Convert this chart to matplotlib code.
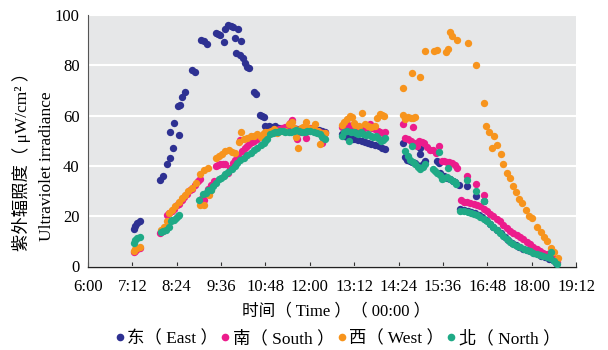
import matplotlib
matplotlib.use("Agg")
import matplotlib.pyplot as plt
from matplotlib.lines import Line2D

plt.rcParams["font.family"] = ["Liberation Serif", "Noto Sans CJK TC", "DejaVu Sans"]

# (minutes after midnight, irradiance uW/cm2)
east = [
    (434, 15), (437, 16.3), (440, 17.3), (444, 18.2),
    (477, 34.2), (482, 35.9), (489, 40.6), (493, 43.3), (493, 53.3), (498, 47.3),
    (499, 57), (507, 52.2), (506, 63.9), (509, 64.2), (513, 67.5), (518, 69.3),
    (529, 78), (534, 77.3), (543, 90), (548, 89.5), (553, 88.6), (567, 92.9),
    (571, 92.5), (574, 92.1), (580, 89.1), (583, 94.6), (588, 95.9), (592, 95.5),
    (595, 95.3), (598, 90.9), (601, 84.9), (603, 94.3), (606, 84.0), (609, 89.7),
    (611, 83.0), (614, 80.9), (618, 79.3), (622, 78.9), (629, 69.3), (633, 68.6),
    (639, 60.3), (642, 60.0), (645, 59.5), (648, 55.7), (653, 56), (658, 55.5),
    (664, 55.7), (670, 55), (676, 54.8), (682, 55), (688, 54.6), (694, 54.2),
    (700, 54.6), (706, 54.5), (712, 54.8), (718, 54.3), (724, 54.4), (730, 54),
    (735, 54.3), (740, 54), (745, 53.3),
    (772, 52.5), (776, 52), (780, 51.5), (785, 51.3), (790, 50.8), (794, 50.6),
    (799, 50.3), (804, 50), (810, 49.6), (815, 49.3), (820, 48.8), (826, 48.3),
    (832, 47.9), (837, 47.3), (842, 46.9),
    (871, 49), (875, 43.7), (878, 42.5), (882, 42), (886, 41.5), (890, 41),
    (894, 40.5), (899, 47.3), (899, 44.6), (903, 40.8), (907, 41.9), (926, 41.9),
    (929, 41.3), (931, 37.3), (937, 35.9), (942, 35.2), (948, 34.6), (952, 34),
    (956, 33.5), (962, 32.6), (975, 32), (990, 28.2), (1003, 25.9),
    (964, 22.9), (970, 22.5), (976, 22.2), (982, 21.8), (988, 21.2), (994, 20.4),
    (1000, 19.5), (1006, 18.3), (1012, 17.0), (1018, 15.8), (1024, 14.5),
    (1030, 13.2), (1036, 11.9), (1042, 10.6), (1048, 9.5), (1054, 8.5),
    (1060, 7.8), (1066, 7.1), (1072, 6.5), (1078, 6.0), (1084, 5.4), (1090, 4.9),
    (1096, 4.3), (1102, 3.7), (1108, 3.1), (1114, 2.4), (1120, 1.4),
]

south = [
    (434, 5.8), (437, 6.3), (440, 6.8), (444, 7.2),
    (477, 13.5), (481, 14.2), (485, 15.2), (489, 20.5), (492, 21.2), (496, 22),
    (500, 23), (504, 24.3), (508, 25), (512, 26.5), (516, 27.5), (520, 28.8),
    (525, 30.5), (529, 30.8), (534, 32.5), (538, 34), (541, 34.6), (544, 27),
    (548, 26.6), (551, 29), (555, 31), (560, 32.5), (564, 34), (567, 39.9),
    (571, 40.5), (575, 40.9), (579, 40.8), (583, 40.6), (587, 37), (591, 39),
    (595, 41), (599, 42.5), (603, 44), (607, 50.3), (610, 46), (614, 47),
    (618, 48), (622, 48.8), (626, 49.5), (630, 50), (634, 50.8), (638, 51.5),
    (642, 52), (646, 52.5),
    (650, 53), (655, 53.5), (660, 54), (665, 54), (670, 54.5), (675, 55),
    (680, 55.5), (685, 56), (688, 57), (691, 58.3), (695, 55), (700, 50.6),
    (704, 53.5), (708, 54.5), (713, 50.9), (717, 54), (721, 55), (726, 54.5),
    (731, 54), (736, 53.5), (740, 49.3), (744, 53),
    (772, 55.5), (776, 56), (780, 56.5), (785, 56), (790, 55.8), (794, 56),
    (799, 55.5), (804, 55.3), (808, 55), (812, 55.5), (817, 56.5), (821, 55),
    (825, 54.5), (830, 54), (834, 53.5), (838, 53), (842, 53.3),
    (871, 56.6), (875, 50.9), (880, 50.5), (884, 49.9), (887, 55.3), (889, 49),
    (894, 48), (898, 49.9), (902, 49.5), (906, 49), (910, 47.5), (915, 46.5),
    (920, 46.3), (925, 45), (929, 47.9), (934, 41.9), (938, 41.8), (942, 41.7),
    (946, 41.5), (951, 41.3), (955, 40.5), (959, 39.3),
    (975, 35.9), (990, 32.9), (1003, 28.3),
    (965, 26.3), (970, 25.8), (975, 25.5), (980, 25.2), (986, 25), (991, 24.5),
    (997, 23.9), (1002, 22.9), (1007, 21.9), (1012, 21), (1018, 19.9),
    (1023, 18.9), (1029, 17.9), (1034, 16.6), (1040, 15.3), (1045, 14.3),
    (1050, 13.3), (1056, 12.5), (1061, 11.7), (1066, 10.8), (1072, 9.9),
    (1077, 8.9), (1083, 7.9), (1088, 7), (1094, 6.2), (1099, 5.5), (1105, 4.8),
    (1110, 4.2), (1115, 3.2), (1121, 1.9),
]

west = [
    (434, 6.2), (437, 6.8), (440, 7.3), (444, 7.9),
    (478, 14.6), (484, 15.6), (488, 18), (491, 21.3), (496, 22.6), (502, 23.9),
    (507, 25.5), (513, 27.3), (518, 28.6), (523, 30), (529, 31.3), (535, 33.3),
    (541, 24.6), (542, 36.6), (548, 38.3), (548, 24.6), (554, 39.3), (556, 28.6),
    (560, 30.5), (567, 43.3), (572, 43.9), (578, 44.6), (583, 45.9), (589, 46.3),
    (594, 45.5), (599, 45), (605, 49.5), (609, 53.5), (613, 50.6), (618, 51),
    (624, 51.9), (630, 52), (635, 52.6), (640, 51.3), (644, 52.5), (648, 53.3),
    (652, 53.5), (657, 54), (662, 54.5), (667, 53), (672, 54), (676, 54),
    (680, 54), (686, 56.6), (691, 57.3), (695, 55), (697, 51.3), (701, 47.3),
    (705, 55), (709, 55.5), (713, 57.3), (717, 55), (721, 54.5), (725, 55),
    (729, 56.6), (733, 54), (737, 48.6), (741, 53), (745, 53),
    (772, 56.2), (776, 57.5), (780, 58.6), (786, 59.9), (788, 59.3), (792, 57),
    (794, 56.2), (800, 56), (805, 61), (810, 56.5), (815, 56), (820, 55.5),
    (826, 56), (829, 58.9), (834, 60.6), (837, 60.2), (840, 59.9),
    (871, 70.9), (872, 60.2), (875, 58.6), (880, 59.3), (884, 59), (886, 77),
    (888, 58.9), (891, 59.3), (899, 75.3), (907, 85.7), (921, 85.5), (926, 85.9),
    (941, 85.3), (944, 86.3), (947, 93.3), (951, 91.5), (959, 89.9), (976, 88.9),
    (989, 80.3), (1003, 65), (1006, 55.7), (1011, 53.5), (1015, 47.1),
    (1019, 51.7), (1024, 48.2), (1030, 44.6), (1034, 40.6), (1040, 37),
    (1045, 35.3), (1049, 31.9), (1055, 29.7), (1060, 27), (1064, 25.3),
    (1071, 22.3), (1076, 19.9), (1080, 19.3), (1089, 15.7), (1095, 13.9),
    (1100, 11.9), (1105, 10.3), (1111, 7.3), (1116, 5.9), (1122, 3.3),
]

north = [
    (434, 9.3), (437, 10.5), (440, 11.3), (444, 11.9),
    (478, 13.9), (482, 14.3), (486, 14.6), (491, 15.9), (494, 17.9), (497, 18.3),
    (499, 18.6), (503, 19.3), (506, 19.9), (508, 20.6),
    (540, 26.6), (546, 29), (551, 29.3), (555, 30.6), (559, 30.6), (563, 32),
    (567, 33.3), (572, 34.6), (576, 35.3), (580, 36), (583, 36.6), (588, 37.5),
    (594, 38.6), (598, 40), (602, 41.3), (607, 42.3), (613, 43.3), (618, 44.3),
    (624, 45.3), (629, 46.3), (634, 47.3), (640, 48.3), (645, 49.3), (648, 50),
    (651, 50.6), (656, 52.6),
    (660, 53), (664, 53.3), (668, 53.5), (672, 53.8), (676, 54), (680, 53.5),
    (686, 53.3), (690, 53.5), (694, 54), (698, 54.2), (702, 54), (707, 53.3),
    (712, 53.5), (716, 53.8), (721, 53.9), (726, 53.5), (731, 53), (736, 52.5),
    (740, 51.3), (744, 50.6),
    (772, 51.7), (776, 53.5), (780, 53.9), (783, 49.9), (787, 53.5), (791, 53.3),
    (795, 53), (799, 52.6), (803, 53.3), (807, 52.5), (811, 52.2), (815, 52.6),
    (819, 52), (823, 51.5), (827, 51.9), (831, 51), (835, 49.9), (838, 50.2),
    (842, 50.9),
    (875, 45.9), (879, 43.9), (882, 42.5), (886, 47.9), (888, 41.5), (891, 40.6),
    (895, 39.5), (899, 38.6), (903, 39.5), (907, 40.6), (920, 38.9), (923, 38),
    (926, 37.3), (929, 45.7), (931, 36.5), (934, 34.6), (938, 35), (942, 35.5),
    (945, 39.3), (948, 34.6), (952, 34), (955, 33.5), (958, 32.9),
    (975, 34.2), (990, 30.2), (1003, 26.2),
    (964, 21.9), (970, 21.9), (976, 21.5), (981, 21.3), (986, 21), (992, 20.3),
    (997, 19.7), (1002, 18.8), (1007, 17.9), (1013, 16.8), (1018, 15.7),
    (1023, 14.5), (1029, 13.3), (1034, 12), (1040, 10.9), (1045, 9.9),
    (1050, 9), (1056, 8.3), (1061, 7.7), (1067, 7), (1072, 6.5), (1078, 6),
    (1083, 5.5), (1088, 5), (1094, 4.6), (1099, 4.1), (1105, 3.6), (1110, 3.3),
    (1112, 5.9), (1116, 2.2), (1121, 1),
]

series_labels = ["东（ East ）", "南（ South ）", "西（ West ）", "北（ North ）"]
colors = ["#2E3192", "#EC1C8C", "#F7941D", "#1FAA86"]

x_ticks = [360, 432, 504, 576, 648, 720, 792, 864, 936, 1008, 1080, 1152]
x_tick_labels = ["6:00", "7:12", "8:24", "9:36", "10:48", "12:00", "13:12",
                 "14:24", "15:36", "16:48", "18:00", "19:12"]
y_ticks = [0, 20, 40, 60, 80, 100]

fig = plt.figure(figsize=(6.08, 3.5), dpi=100)
ax = fig.add_axes([88 / 608, 1 - 266.5 / 350, (576 - 88) / 608, (266.5 - 15) / 350])
ax.set_facecolor("#E6E7E8")

for data, c in zip([east, south, west, north], colors):
    t = [p[0] for p in data]
    v = [p[1] for p in data]
    ax.scatter(t, v, s=28, color=c, linewidths=0, zorder=3)

ax.set_xlim(360, 1152)
ax.set_ylim(0, 100)
ax.set_xticks(x_ticks)
ax.set_xticklabels(x_tick_labels)
ax.set_yticks(y_ticks)
ax.grid(axis="y", color="white", linewidth=1.5)
ax.set_axisbelow(True)
ax.tick_params(axis="x", direction="in", length=3.5, width=0.8, color="#333333",
               labelsize=12, pad=9)
ax.tick_params(axis="y", length=0, labelsize=12, pad=6)
for side in ["top", "right"]:
    ax.spines[side].set_visible(False)
ax.spines["left"].set_color("#555555")
ax.spines["bottom"].set_color("#222222")
ax.spines["bottom"].set_linewidth(1.0)

fig.text(0.553, 1 - 311 / 350, "时间（ Time ）（ 00:00 ）", ha="center", va="center",
         fontsize=12)
fig.text(22 / 608, 1 - 157 / 350, "紫外辐照度（ μW/cm² ）", rotation=90,
         ha="center", va="center", fontsize=12.5)
fig.text(47 / 608, 1 - 166 / 350, "Ultraviolet irradiance", rotation=90,
         ha="center", va="center", fontsize=12.5)

handles = [Line2D([], [], marker="o", linestyle="", markersize=5.5,
                  markerfacecolor=c, markeredgewidth=0) for c in colors]
fig.legend(handles, series_labels, loc="center", bbox_to_anchor=(0.555, 1 - 339 / 350),
           ncol=4, frameon=False, fontsize=12.5, handlelength=0.6,
           handletextpad=0.15, columnspacing=0.1, borderpad=0)

fig.savefig("out.png", dpi=100)
